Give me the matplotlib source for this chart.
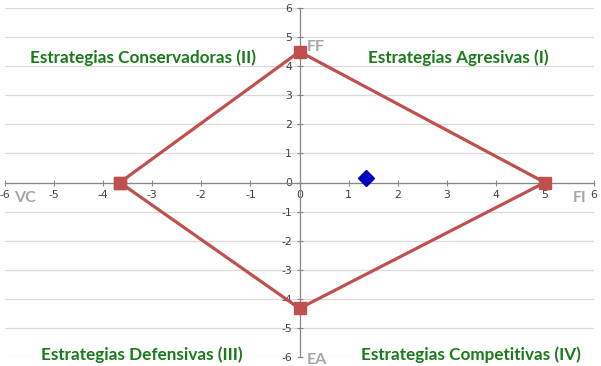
import matplotlib
matplotlib.use("Agg")
import matplotlib.pyplot as plt

plt.rcParams["axes.unicode_minus"] = False

# Data
diamond_x = [-3.66, 0, 5, 0, -3.66]
diamond_y = [0, 4.5, 0, -4.33, 0]
point_x = [1.35]
point_y = [0.17]
ticks = [-6, -5, -4, -3, -2, -1, 0, 1, 2, 3, 4, 5, 6]
quadrant_labels = ["Estrategias Conservadoras (II)", "Estrategias Agresivas (I)",
                   "Estrategias Defensivas (III)", "Estrategias Competitivas (IV)"]
quadrant_pos = [(-3.18, 4.3), (3.24, 4.3), (-3.22, -5.92), (3.5, -5.92)]
axis_labels = ["FF", "FI", "VC", "EA"]
axis_label_pos = [(0.15, 4.65), (5.71, -0.55), (-5.6, -0.55), (0.15, -6.12)]

fig = plt.figure(figsize=(6.01, 3.66), dpi=100)
ax = fig.add_axes([5/601, 1-357/366, 589/601, 349/366])
ax.set_xlim(-6, 6)
ax.set_ylim(-6, 6)

ax.set_yticks(ticks)
ax.set_xticks(ticks)
ax.yaxis.grid(True, color="#d9d9d9", linewidth=0.9)
ax.xaxis.grid(False)
ax.set_axisbelow(True)

for s in ["top", "right"]:
    ax.spines[s].set_visible(False)
ax.spines["left"].set_position(("data", 0))
ax.spines["bottom"].set_position(("data", 0))
for s in ["left", "bottom"]:
    ax.spines[s].set_color("#868686")
    ax.spines[s].set_linewidth(0.9)
ax.tick_params(axis="both", direction="inout", length=5, width=0.8, color="#868686",
               labelsize=7.8, labelcolor="#404040", pad=3)

ax.plot(diamond_x, diamond_y, color="#c0504d", linewidth=2.3, marker="s",
        markersize=8, markerfacecolor="#c0504d", markeredgecolor="#c0504d", zorder=3)
ax.plot(point_x, point_y, linestyle="none", marker="D", markersize=8,
        color="#0000c0", zorder=4)

for t, (x, y) in zip(quadrant_labels, quadrant_pos):
    ax.text(x, y, t, ha="center", va="center", fontsize=12.3, fontweight="bold",
            color="#1b7a1b", family="Lato")
for t, (x, y) in zip(axis_labels, axis_label_pos):
    ax.text(x, y, t, ha="left" if t in ("FF", "EA") else "center", va="center",
            fontsize=11.5, fontweight="bold", color="#a6a6a6", family="Lato")

fig.savefig("out.png", dpi=100)
